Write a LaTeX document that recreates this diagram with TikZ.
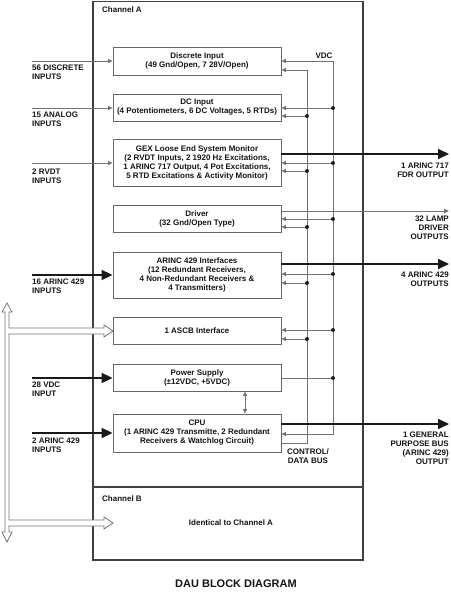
\documentclass[tikz,border=0pt]{standalone}
\usepackage{fontspec}
\setmainfont{Liberation Sans}
\usetikzlibrary{arrows.meta}
\begin{document}
\begin{tikzpicture}[x=1pt,y=-1pt,
  every node/.style={font=\bfseries\fontsize{8}{9}\selectfont, text=black!92, inner sep=0pt},
  blk/.style={draw=black!60, line width=0.9pt, minimum width=168pt, align=center},
  bus/.style={draw=black!55, line width=0.75pt},
  tarr/.style={bus, -{Triangle[length=4.5pt,width=4pt]}},
  tharr/.style={draw=black!90, line width=1.9pt, -{Triangle[length=11pt,width=10pt]}},
  lbl/.style={align=left, anchor=north west},
  rlbl/.style={align=right, anchor=north east},
  frame/.style={draw=black!75, line width=1.2pt},
  hollow/.style={draw=black!55, fill=white, line width=0.75pt, line join=miter}
]
\useasboundingbox (0,0) rectangle (450,594);

% outer channel frame
\draw[frame] (93,1.5) rectangle (363,560);
\draw[frame] (93,487) -- (363,487);
\node[anchor=north west] (chA) at (102,7) {Channel A};
\node[anchor=north west] (chB) at (102,495) {Channel B};
\node (ident) at (231,523) {Identical to Channel A};

% blocks
\node[blk, minimum height=28pt] (disc) at (197,61) {Discrete Input\\(49 Gnd/Open, 7 28V/Open)};
\node[blk, minimum height=27pt] (dcin) at (197,107.5) {DC Input\\(4 Potentiometers, 6 DC Voltages, 5 RTDs)};
\node[blk, minimum height=47pt] (gex) at (197,162.5) {GEX Loose End System Monitor\\(2 RVDT Inputs, 2 1920 Hz Excitations,\\1 ARINC 717 Output, 4 Pot Excitations,\\5 RTD Excitations \& Activity Monitor)};
\node[blk, minimum height=27pt] (drv) at (197,218.5) {Driver\\(32 Gnd/Open Type)};
\node[blk, minimum height=46pt] (arinc) at (197,275) {ARINC 429 Interfaces\\(12 Redundant Receivers,\\4 Non-Redundant Receivers \&\\4 Transmitters)};
\node[blk, minimum height=27pt] (ascb) at (197,330.5) {1 ASCB Interface};
\node[blk, minimum height=27pt] (psu) at (197,377.5) {Power Supply\\(\textpm12VDC, +5VDC)};
\node[blk, minimum height=38pt] (cpu) at (197,433) {CPU\\(1 ARINC 429 Transmitte, 2 Redundant\\Receivers \& Watchlog Circuit)};

% buses
\coordinate (vtop) at (333,61);
\coordinate (vbot) at (333,434);
\coordinate (ctop) at (307,70);
\coordinate (cbot) at (307,443);
\draw[bus, {Triangle[length=4.5pt,width=4pt]}-{Triangle[length=4.5pt,width=4pt]}]
  (vtop -| disc.east) -- (vtop) -- (vbot) -- (vbot -| cpu.east);
\draw[bus, {Triangle[length=4.5pt,width=4pt]}-]
  (ctop -| disc.east) -- (ctop) -- (cbot) -- (cbot -| cpu.east);
\foreach \y/\b in {108/dcin,163/gex,219/drv,274/arinc,330/ascb}{
  \coordinate (t) at (333,\y);
  \draw[tarr] (t) -- (t -| \b.east);
  \fill[black!88] (t) circle (2pt);
}
\foreach \y/\b in {116/dcin,171/gex,227/drv,283/arinc,339/ascb}{
  \coordinate (t) at (307,\y);
  \draw[tarr] (t) -- (t -| \b.east);
  \fill[black!88] (t) circle (2pt);
}
\coordinate (pv) at (333,378);
\draw[bus] (pv -| psu.east) -- (pv);
\fill[black!88] (pv) circle (2pt);
\node[anchor=center] (vdc) at (324,56) {VDC};
\node[align=center, anchor=north] (cdb) at (308,448) {CONTROL/\\DATA BUS};

% power supply <-> cpu
\draw[bus, {Triangle[length=4.5pt,width=4pt]}-{Triangle[length=4.5pt,width=4pt]}]
  ([xshift=48pt]psu.south) -- ([xshift=48pt]cpu.north);

% inputs
\foreach \y/\b in {61/disc,108/dcin,163/gex}{
  \coordinate (i) at (32,\y);
  \draw[tarr] (i) -- (i -| \b.west);
}
\foreach \y/\b in {275/arinc,378/psu,433/cpu}{
  \coordinate (i) at (32,\y);
  \draw[tharr] (i) -- (i -| \b.west);
}
\node[lbl] (l1) at (32,65) {56 DISCRETE\\INPUTS};
\node[lbl] (l2) at (32,111.5) {15 ANALOG\\INPUTS};
\node[lbl] (l3) at (32,169) {2 RVDT\\INPUTS};
\node[lbl] (l4) at (32,279) {16 ARINC 429\\INPUTS};
\node[lbl] (l5) at (32,381.5) {28 VDC\\INPUT};
\node[lbl] (l6) at (32,438) {2 ARINC 429\\INPUTS};

% outputs
\coordinate (o1) at (449,154);
\draw[tharr] (o1 -| gex.east) -- (o1);
\coordinate (o2) at (449,211);
\draw[bus, -{Triangle[length=5pt,width=4.5pt]}] (o2 -| drv.east) -- (o2);
\coordinate (o3) at (449,264);
\draw[tharr] (o3 -| arinc.east) -- (o3);
\coordinate (o4) at (449,424);
\draw[tharr] (o4 -| cpu.east) -- (o4);
\node[rlbl] (r1) at (449,163) {1 ARINC 717\\FDR OUTPUT};
\node[rlbl] (r2) at (449,216) {32 LAMP\\DRIVER\\OUTPUTS};
\node[rlbl] (r3) at (449,272) {4 ARINC 429\\OUTPUTS};
\node[rlbl] (r4) at (449,432) {1 GENERAL\\PURPOSE BUS\\(ARINC 429)\\OUTPUT};

% hollow data bus
\draw[hollow] (7,303) -- (12,312) -- (9,312) -- (9,328) -- (104,328) -- (104,325)
  -- (113,331) -- (104,337) -- (104,334) -- (9,334) -- (9,520) -- (104,520)
  -- (104,517) -- (113,523) -- (104,529) -- (104,526) -- (9,526) -- (9,532)
  -- (12,532) -- (7,542) -- (2,532) -- (5,532) -- (5,312) -- (2,312) -- cycle;

% title
\node[font=\bfseries\fontsize{11}{13}\selectfont] (title) at (236,584) {DAU BLOCK DIAGRAM};
\end{tikzpicture}
\end{document}
